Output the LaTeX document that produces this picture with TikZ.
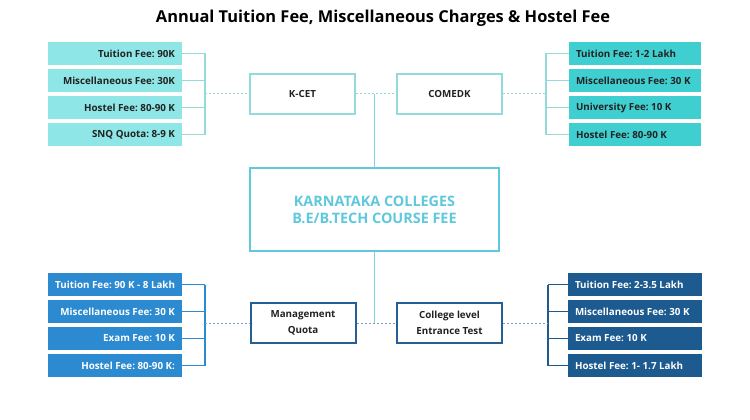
\documentclass[tikz,border=0pt]{standalone}
\usepackage{fontspec}
\setmainfont{Open Sans}
\usepackage{tikz}
\usetikzlibrary{positioning}
\frenchspacing

\definecolor{tlfill}{HTML}{8EE6E6}
\definecolor{trfill}{HTML}{40CFD1}
\definecolor{blfill}{HTML}{2C8AD0}
\definecolor{brfill}{HTML}{1C5A8F}
\definecolor{topedge}{HTML}{93DADA}
\definecolor{botedge}{HTML}{245F98}
\definecolor{midblue}{HTML}{5FC8DC}
\definecolor{ink}{HTML}{222222}

\begin{document}
\begin{tikzpicture}[x=1pt,y=-1pt,
        fee/.style={minimum height=23pt, inner xsep=7pt, inner ysep=0pt,
            font=\bfseries\fontsize{9.8}{11}\selectfont},
        exam/.style={draw, line width=2pt, fill=white, minimum width=105pt, minimum height=40pt,
            align=center, text=ink, font=\bfseries\fontsize{9.8}{16}\selectfont},
        topline/.style={draw=topedge, line width=1.2pt},
        topdot/.style={draw=topedge, line width=1pt, dash pattern=on 2pt off 2pt},
        botdot/.style={draw=botedge!60, line width=1pt, dash pattern=on 2pt off 2pt}]
        \useasboundingbox (0,0) rectangle (750,420);

        \node[font=\bfseries\fontsize{16.4}{18}\selectfont] (title) at (383,18) {Annual Tuition Fee, Miscellaneous Charges \& Hostel Fee};

        \coordinate (tlbr) at (205,94);
        \coordinate (trbr) at (546,94);
        \coordinate (blbr) at (205,323);
        \coordinate (brbr) at (548,323);

        \node[exam, draw=topedge] (kcet) at (302.5,94) {K-CET};
        \node[exam, draw=topedge] (comedk) at (449.5,94) {COMEDK};
        \node[exam, draw=botedge] (mgmt) at (303,323) {Management\\Quota};
        \node[exam, draw=botedge] (clet) at (449.5,323) {College level\\Entrance Test};

        \node[draw=midblue, line width=2.5pt, minimum width=249pt, minimum height=83pt, align=center,
            text=midblue, font=\bfseries\fontsize{14.4}{17}\selectfont] (kar) at (374.5,209.5)
            {KARNATAKA COLLEGES\\B.E/B.TECH COURSE FEE};

        \foreach \i/\txt in {1/Tuition Fee: 90K, 2/Miscellaneous Fee: 30K, 3/Hostel Fee: 80-90 K, 4/SNQ Quota: 8-9 K}{
            \node[fee, fill=tlfill, text=ink] (tl\i) at (115,{26.5+27*\i}) {\hbox to 120pt{\hss\txt}};
            \draw[topline] (tl\i.east) -- (tl\i.east -| tlbr);
        }
        \foreach \i/\txt in {1/Tuition Fee: 1-2 Lakh, 2/Miscellaneous Fee: 30 K, 3/University Fee: 10 K, 4/Hostel Fee: 80-90 K}{
            \node[fee, fill=trfill, text=ink] (tr\i) at (635,{26.5+27*\i}) {\hbox to 118pt{\txt\hss}};
            \draw[topline] (tr\i.west) -- (tr\i.west -| trbr);
        }
        \foreach \i/\txt in {1/Tuition Fee: 90 K - 8 Lakh, 2/Miscellaneous Fee: 30 K, 3/Exam Fee: 10 K, 4/Hostel Fee: 80-90 K:}{
            \node[fee, fill=blfill, text=white] (bl\i) at (115,{257.5+27*\i}) {\hbox to 120pt{\hss\txt}};
            \draw[blfill, line width=1.2pt] (bl\i.east) -- (bl\i.east -| blbr);
        }
        \foreach \i/\txt in {1/Tuition Fee: 2-3.5 Lakh, 2/Miscellaneous Fee: 30 K, 3/Exam Fee: 10 K, 4/Hostel Fee: 1- 1.7 Lakh}{
            \node[fee, fill=brfill, text=white] (br\i) at (635,{257.5+27*\i}) {\hbox to 120pt{\txt\hss}};
            \draw[brfill, line width=1.2pt] (br\i.west) -- (br\i.west -| brbr);
        }

        \draw[topline] (tl1.east -| tlbr) -- (tl4.east -| tlbr);
        \draw[topline] (tr1.west -| trbr) -- (tr4.west -| trbr);
        \draw[blfill, line width=1.2pt] (bl1.east -| blbr) -- (bl4.east -| blbr);
        \draw[brfill, line width=1.2pt] (br1.west -| brbr) -- (br4.west -| brbr);

        \draw[topdot] (tlbr) -- (kcet);
        \draw[topdot] (kcet) -- (comedk);
        \draw[topdot] (comedk) -- (trbr);
        \draw[botdot] (blbr) -- (mgmt);
        \draw[botdot] (mgmt) -- (clet);
        \draw[botdot] (clet) -- (brbr);

        \draw[midblue!80, line width=1.5pt] (kar.north) -- (kar.north |- kcet);
        \draw[midblue!80, line width=1.5pt] (kar.south) -- (kar.south |- mgmt);
    \end{tikzpicture}
\end{document}
